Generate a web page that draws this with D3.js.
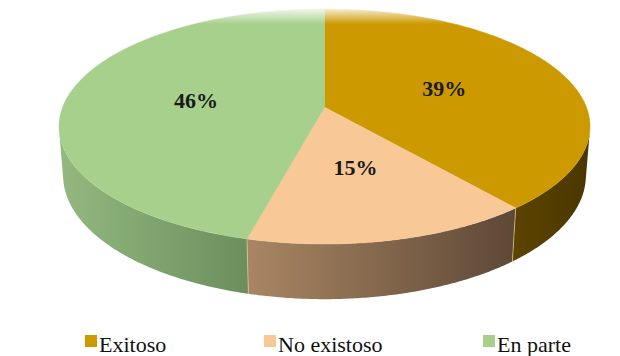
<!DOCTYPE html>
<html>
<head>
<meta charset="utf-8">
<script src="https://cdn.jsdelivr.net/npm/d3@7"></script>
<style>
  body { margin: 0; background: #ffffff; }
</style>
</head>
<body>
<svg id="chart" width="620" height="356" style="font-family: 'Liberation Serif'"></svg>
<script>
// ---- data ----
const categories = ["Exitoso", "No existoso", "En parte"];
const values = [39, 15, 46];
const labels = values.map(v => v + "%");

// ---- styles ----
const topColors = ["#cc9900", "#f8c997", "#a8d08d"];
const sideLight = ["#5c4400", "#a98663", "#93b980"];
const sideDark  = ["#4a3600", "#5d4836", "#6a8f5d"];
const serif = "Liberation Serif";

const W = 620, H = 356;
const svg = d3.select("#chart");
const defs = svg.append("defs");

// ---- 3D view of a tilted disc with perspective ----
const phi = 25 * Math.PI / 180, sp = Math.sin(phi), cp = Math.cos(phi);
const D0 = 5.5;        // camera distance in radius units
const thick = 0.2;     // disc thickness in radius units

// angle a: clockwise from 12 o'clock (far side), y: height, r: radius
function raw(a, y, r = 1) {
  const x = r * Math.sin(a), z = r * Math.cos(a);
  const Yc = y * cp + z * sp;
  const Zc = D0 + z * cp - y * sp;
  return [x / Zc, -Yc / Zc];
}

// fit the top face into the drawing area
const rim = d3.range(0, 360, 0.25).map(d => raw(d * Math.PI / 180, 0));
const sx = d3.scaleLinear().domain(d3.extent(rim, d => d[0])).range([59, 590]);
const sy = d3.scaleLinear().domain(d3.extent(rim, d => d[1])).range([9, 244]);
function P(a, y, r = 1) { const p = raw(a, y, r); return [sx(p[0]), sy(p[1])]; }

const pie = d3.pie().sort(null).value(d => d);
const arcs = pie(values);

const step = Math.PI / 360;
function arcPoints(a0, a1, y, r = 1) {
  const n = Math.max(2, Math.ceil(Math.abs(a1 - a0) / step));
  return d3.range(n + 1).map(i => P(a0 + (a1 - a0) * i / n, y, r));
}
const line = d3.line();

// visible side wall: outward normal faces camera when cos(a) < -1/(D0*cos(phi))
const aVis = Math.acos(-1 / (D0 * cp));
const visL = aVis, visR = 2 * Math.PI - aVis;

// ---- side walls ----
const walls = svg.append("g");
arcs.forEach((d, i) => {
  const a0 = Math.max(d.startAngle, visL), a1 = Math.min(d.endAngle, visR);
  if (a1 <= a0) return;
  const topPts = arcPoints(a0, a1, 0);
  const botPts = arcPoints(a1, a0, -thick);
  const pts = topPts.concat(botPts);
  const xs = d3.extent(pts, p => p[0]);
  const gid = "side" + i;
  const g = defs.append("linearGradient").attr("id", gid)
    .attr("gradientUnits", "userSpaceOnUse")
    .attr("x1", xs[0]).attr("x2", xs[1]).attr("y1", 0).attr("y2", 0);
  g.append("stop").attr("offset", 0).attr("stop-color", sideLight[i]);
  g.append("stop").attr("offset", 1).attr("stop-color", sideDark[i]);
  walls.append("path")
    .attr("d", line(pts) + "Z")
    .attr("fill", `url(#${gid})`);
});

// seams between walls
arcs.forEach(d => {
  const a = d.startAngle;
  if (a > visL && a < visR) {
    const p0 = P(a, 0), p1 = P(a, -thick);
    walls.append("line")
      .attr("x1", p0[0]).attr("y1", p0[1]).attr("x2", p1[0]).attr("y2", p1[1])
      .attr("stroke", "#e9cf9a").attr("stroke-width", 0.8).attr("stroke-opacity", 0.8);
  }
});

// ---- top faces ----
const tops = svg.append("g");
const c0 = P(0, 0, 0);
arcs.forEach((d, i) => {
  const pts = [c0].concat(arcPoints(d.startAngle, d.endAngle, 0));
  tops.append("path")
    .attr("d", line(pts) + "Z")
    .attr("fill", topColors[i])
    .attr("stroke", topColors[i]).attr("stroke-width", 0.5);
});

// ---- value labels ----
svg.selectAll("text.value")
  .data(arcs)
  .join("text")
  .attr("class", "value")
  .attr("x", d => P((d.startAngle + d.endAngle) / 2, 0, 0.5)[0])
  .attr("y", d => P((d.startAngle + d.endAngle) / 2, 0, 0.5)[1])
  .attr("dy", "0.34em")
  .attr("text-anchor", "middle")
  .attr("font-family", serif)
  .style("font-family", serif, "important")
  .style("font-weight", "bold")
  .style("font-size", "22px")
  .style("fill", "#1a1a1a")
  .text((d, i) => labels[i]);

// ---- soft fade along the top edge ----
const fade = defs.append("linearGradient").attr("id", "topFade")
  .attr("x1", 0).attr("x2", 0).attr("y1", 0).attr("y2", 1);
fade.append("stop").attr("offset", 0).attr("stop-color", "#fff").attr("stop-opacity", 1);
fade.append("stop").attr("offset", 0.35).attr("stop-color", "#fff").attr("stop-opacity", 0.85);
fade.append("stop").attr("offset", 1).attr("stop-color", "#fff").attr("stop-opacity", 0);
svg.append("rect").attr("x", 0).attr("y", 0).attr("width", W).attr("height", 24)
  .attr("fill", "url(#topFade)");

// ---- legend ----
const legendX = [85, 264, 483];
svg.selectAll("rect.swatch")
  .data(categories)
  .join("rect")
  .attr("class", "swatch")
  .attr("x", (d, i) => legendX[i]).attr("y", 335)
  .attr("width", 12).attr("height", 12)
  .attr("fill", (d, i) => topColors[i]);
svg.selectAll("text.legend")
  .data(categories)
  .join("text")
  .attr("class", "legend")
  .attr("x", (d, i) => legendX[i] + 14).attr("y", 352)
  .attr("font-family", serif)
  .style("font-family", serif, "important")
  .style("font-size", "22px")
  .style("fill", "#111")
  .text(d => d);
</script>
</body>
</html>
